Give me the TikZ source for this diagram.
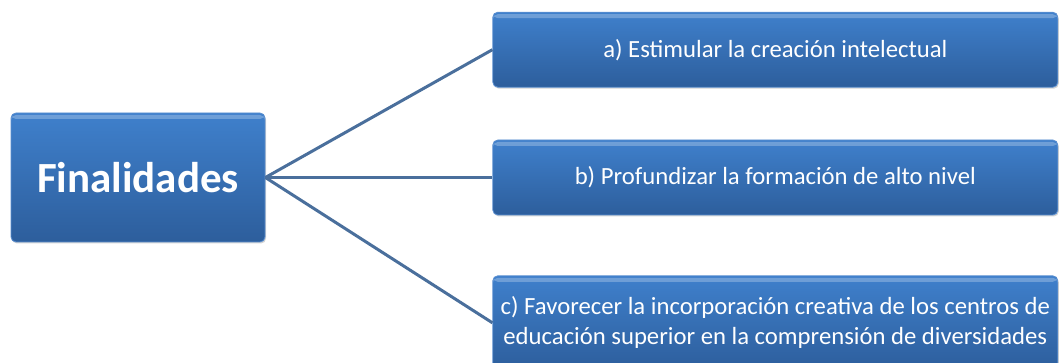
\documentclass[tikz,border=0pt]{standalone}
\usepackage{fontspec}
\setmainfont{Carlito}
\usetikzlibrary{positioning, shadows}

\definecolor{boxtop}{HTML}{3F80CC}
\definecolor{boxbot}{HTML}{2D5E9C}
\definecolor{boxline}{HTML}{5B8FD0}
\definecolor{linkblue}{HTML}{4A6F9C}

\tikzset{
	item/.style={rectangle, rounded corners=5pt, top color=boxtop, bottom color=boxbot,
		draw=boxline, line width=0.8pt, text=white, align=center, inner sep=0pt,
		minimum width=565pt, minimum height=75pt, font=\fontsize{24.7}{30}\selectfont,
		drop shadow={shadow xshift=1pt, shadow yshift=-1.5pt, opacity=.35},
		path picture={\fill[white, opacity=.25] ([yshift=-2pt]path picture bounding box.north west) rectangle ([yshift=-6pt]path picture bounding box.north east);}},
	link/.style={draw=linkblue, line width=3pt},
}

\begin{document}
\begin{tikzpicture}[x=1pt, y=-1pt]
	\useasboundingbox (0,0) rectangle (1059,363);
	% central box and the three aims
	\draw node (fin)[item, minimum width=254pt, minimum height=129pt, font=\fontsize{43}{48}\bfseries] at (138,177.5) {Finalidades};
	\draw node (b)[item, right=227pt of fin]{b) Profundizar la formación de alto nivel};
	\draw node (a)[item, above=52pt of b]{a) Estimular la creación intelectual};
	\draw node (c)[item, below=60pt of b, minimum height=94pt]{c) Favorecer la incorporación creativa de los centros de\\educación superior en la comprensión de diversidades};
	\draw[link] (fin.east)--(a.west);
	\draw[link] (fin.east)--(b.west);
	\draw[link] (fin.east)--(c.west);
\end{tikzpicture}
\end{document}
